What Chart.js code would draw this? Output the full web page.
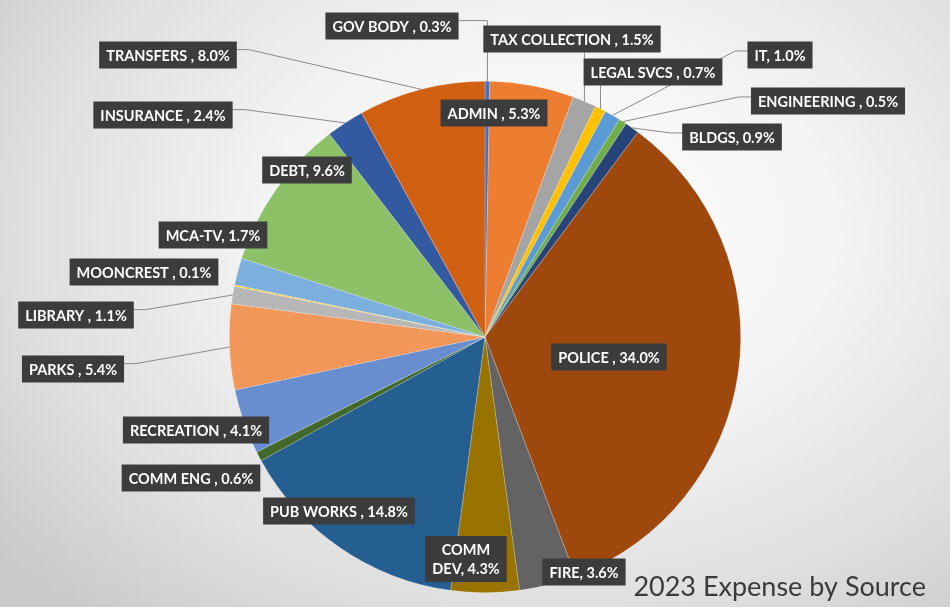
<!DOCTYPE html>
<html>
<head>
<meta charset="utf-8">
<script src="https://cdn.jsdelivr.net/npm/chart.js@4.4.1/dist/chart.umd.min.js"></script>
<style>
    html, body { margin: 0; padding: 0; }
    #wrap {
        width: 950px;
        height: 607px;
        background: radial-gradient(ellipse 75% 85% at 58% 38%, #ffffff 0%, #f3f3f3 40%, #dedede 75%, #c9c9c9 100%);
    }
</style>
</head>
<body>
<div id="wrap"><canvas id="expenseChart" width="950" height="607"></canvas></div>
<script>
// Data: share of 2023 expense by source, clockwise from 12 o'clock
const categories = [
    'GOV BODY ', 'ADMIN ', 'TAX COLLECTION ', 'LEGAL SVCS ', 'IT', 'ENGINEERING ', 'BLDGS',
    'POLICE ', 'FIRE', 'COMM DEV', 'PUB WORKS ', 'COMM ENG ', 'RECREATION ', 'PARKS ',
    'LIBRARY ', 'MOONCREST ', 'MCA-TV', 'DEBT', 'INSURANCE ', 'TRANSFERS '
];
const shares = [
    0.3, 5.3, 1.5, 0.7, 1.0, 0.5, 0.9,
    34.0, 3.6, 4.3, 14.8, 0.6, 4.1, 5.4,
    1.1, 0.1, 1.7, 9.6, 2.4, 8.0
];

// Styles
const sliceColors = [
    '#4472C4', '#ED7D31', '#A5A5A5', '#FFC000', '#5B9BD5', '#70AD47', '#264478',
    '#9E480E', '#636363', '#997300', '#255E91', '#43682B', '#698ED0', '#F1975A',
    '#B7B7B7', '#FFCD33', '#7CAFDD', '#8CC168', '#335AA1', '#D26012'
];

// Label box centres (page px) and which side a leader line leaves from
const labelPos = [
    [392, 26], [494, 113], [572, 39], [653, 72], [780, 55], [828, 101], [732, 137],
    [609, 357], [584, 572], [466, 559], [339, 511], [191, 478], [196, 430], [73, 369],
    [76, 315], [144, 272], [213, 235], [307, 170], [163, 115], [168, 55]
];
const leaderSide = [
    'r', null, 'b', 'b', 'l', 'l', 'l',
    null, null, null, null, null, null, 'r',
    'r', null, null, null, 'r', 'r'
];

const labelFont = 'bold 14.5px Lato, "Open Sans", sans-serif';

function wrapLines(ctx, text, maxWidth) {
    if (!maxWidth) return [text];
    const words = text.split(' ');
    const lines = [];
    let cur = '';
    words.forEach(w => {
        const test = cur ? cur + ' ' + w : w;
        if (cur && ctx.measureText(test).width > maxWidth) {
            lines.push(cur);
            cur = w;
        } else {
            cur = test;
        }
    });
    if (cur) lines.push(cur);
    return lines;
}

// Data labels with boxes and leader lines
const calloutPlugin = {
    id: 'callouts',
    afterDatasetsDraw(chart) {
        const ctx = chart.ctx;
        const meta = chart.getDatasetMeta(0);
        ctx.save();
        ctx.font = labelFont;

        const boxes = meta.data.map((arc, i) => {
            const text = categories[i] + ', ' + shares[i].toFixed(1) + '%';
            const lines = wrapLines(ctx, text, i === 9 ? 70 : 0);
            const w = Math.max(...lines.map(l => ctx.measureText(l).width)) + 14;
            const h = lines.length * 19 + 8;
            const [cx, cy] = labelPos[i];
            return { lines, x: cx - w / 2, y: cy - h / 2, w, h };
        });

        // leader lines
        ctx.strokeStyle = '#8a8a8a';
        ctx.lineWidth = 1;
        meta.data.forEach((arc, i) => {
            const side = leaderSide[i];
            if (!side) return;
            const p = arc.getProps(['x', 'y', 'startAngle', 'endAngle', 'outerRadius'], true);
            const mid = (p.startAngle + p.endAngle) / 2;
            const ax = p.x + Math.cos(mid) * p.outerRadius;
            const ay = p.y + Math.sin(mid) * p.outerRadius;
            const b = boxes[i];
            let sx, sy, ex, ey;
            if (side === 'r') {
                sx = b.x + b.w; sy = b.y + b.h * 0.3; ex = Math.min(sx + 12, ax); ey = sy;
                if (ax - sx < 30) ex = ax;
            } else if (side === 'l') {
                sx = b.x; sy = b.y + b.h * 0.35; ex = sx - 12; ey = sy;
            } else {
                sx = ax; sy = b.y + b.h; ex = sx; ey = sy + 6;
            }
            ctx.beginPath();
            ctx.moveTo(sx, sy);
            ctx.lineTo(ex, ey);
            ctx.lineTo(ax, ay);
            ctx.stroke();
        });

        // boxes and text
        ctx.textAlign = 'center';
        ctx.textBaseline = 'middle';
        boxes.forEach(b => {
            ctx.fillStyle = '#3c3c3c';
            ctx.fillRect(b.x, b.y, b.w, b.h);
            ctx.fillStyle = '#ffffff';
            b.lines.forEach((l, k) => {
                ctx.fillText(l, b.x + b.w / 2, b.y + 4 + 9.5 + k * 19 + 1);
            });
        });

        // chart title, bottom right
        ctx.font = '27px Lato, "Open Sans", sans-serif';
        ctx.fillStyle = '#3a3a3a';
        ctx.textAlign = 'right';
        ctx.textBaseline = 'alphabetic';
        ctx.fillText('2023 Expense by Source', 926, 596);
        ctx.restore();
    }
};

document.addEventListener('DOMContentLoaded', function() {
    const ctx = document.getElementById('expenseChart').getContext('2d');
    window.expenseChart = new Chart(ctx, {
        type: 'pie',
        data: {
            labels: categories,
            datasets: [{
                data: shares,
                backgroundColor: sliceColors,
                borderColor: 'rgba(255, 255, 255, 0.35)',
                borderWidth: 0.6
            }]
        },
        options: {
            responsive: false,
            animation: false,
            layout: {
                padding: { top: 81, bottom: 14, left: 229, right: 209 }
            },
            plugins: {
                legend: { display: false },
                tooltip: { enabled: false }
            }
        },
        plugins: [calloutPlugin]
    });
});
</script>
</body>
</html>
